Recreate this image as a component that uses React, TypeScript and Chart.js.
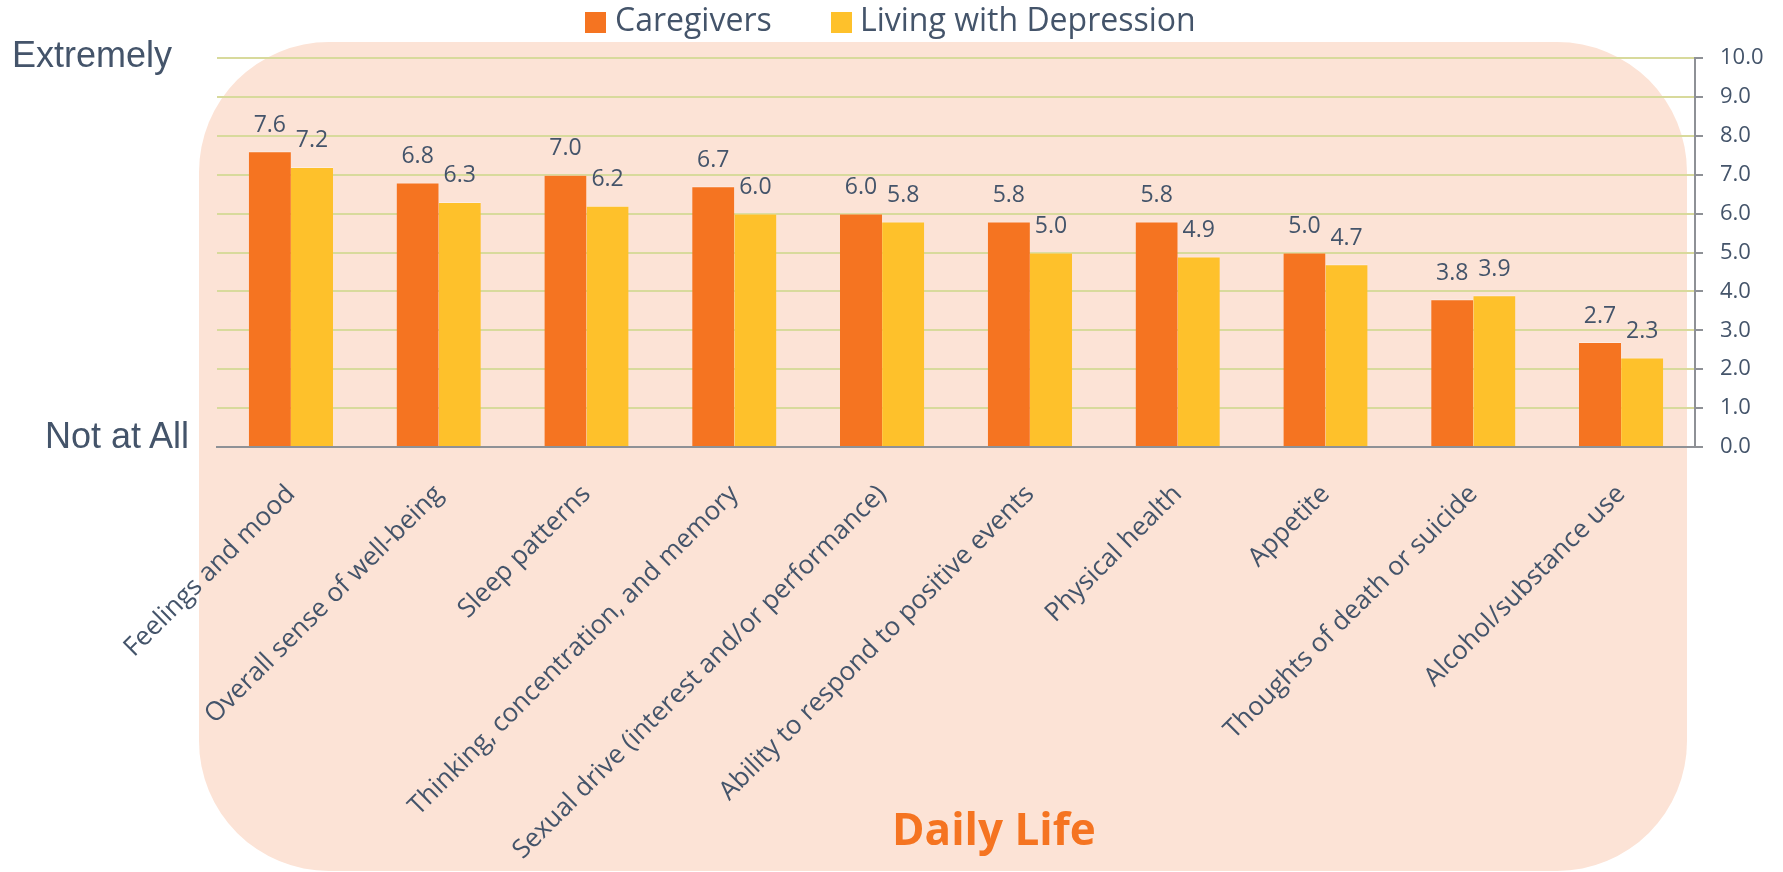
import React, { useEffect, useRef } from "react";
import { Chart, registerables } from "chart.js";

Chart.register(...registerables);

const categories = [
  "Feelings and mood",
  "Overall sense of well-being",
  "Sleep patterns",
  "Thinking, concentration, and memory",
  "Sexual drive (interest and/or performance)",
  "Ability to respond to positive events",
  "Physical health",
  "Appetite",
  "Thoughts of death or suicide",
  "Alcohol/substance use",
];
const caregivers = [7.6, 6.8, 7.0, 6.7, 6.0, 5.8, 5.8, 5.0, 3.8, 2.7];
const livingWithDepression = [7.2, 6.3, 6.2, 6.0, 5.8, 5.0, 4.9, 4.7, 3.9, 2.3];
const seriesNames = ["Caregivers", "Living with Depression"];
const yMin = 0;
const yMax = 10;
const yStep = 1;
const topLabel = "Extremely";
const bottomLabel = "Not at All";
const sectionTitle = "Daily Life";

const W = 1783;
const H = 872;
const ORANGE = "#F57421";
const YELLOW = "#FEC12B";
const PEACH = "#FCE3D6";
const TEXT = "#44546A";
const GRID = "#D8DA9C";
const AXIS = "#8E9196";

const bgPlugin = {
  id: "peachBg",
  beforeDraw(chart: any) {
    const { ctx, chartArea } = chart;
    const x = chartArea.left - 18;
    const right = chartArea.right - 8;
    const y = 42;
    const bottom = 871;
    ctx.save();
    ctx.fillStyle = PEACH;
    ctx.beginPath();
    ctx.roundRect(x, y, right - x, bottom - y, 130);
    ctx.fill();
    ctx.restore();
  },
};

const valueLabelPlugin = {
  id: "valueLabels",
  afterDatasetsDraw(chart: any) {
    const { ctx } = chart;
    ctx.save();
    ctx.font = '23px "Open Sans"';
    ctx.fillStyle = TEXT;
    ctx.textAlign = "center";
    ctx.textBaseline = "middle";
    chart.data.datasets.forEach((ds: any, di: number) => {
      const meta = chart.getDatasetMeta(di);
      meta.data.forEach((el: any, i: number) => {
        const v = ds.data[i] as number;
        ctx.fillText(v.toFixed(1), el.x, el.y - 26);
      });
    });
    ctx.restore();
  },
};

export default function App() {
  const canvasRef = useRef<HTMLCanvasElement | null>(null);

  useEffect(() => {
    document.body.style.margin = "0";
    document.body.style.overflow = "hidden";
    const canvas = canvasRef.current;
    if (!canvas) return;
    const chart = new Chart(canvas, {
      type: "bar",
      data: {
        labels: categories,
        datasets: [
          {
            label: seriesNames[0],
            data: caregivers,
            backgroundColor: ORANGE,
            borderColor: "rgba(255,255,255,0.35)",
            borderWidth: { top: 1, left: 0, right: 0, bottom: 0 },
            categoryPercentage: 0.57,
            barPercentage: 1.0,
          },
          {
            label: seriesNames[1],
            data: livingWithDepression,
            backgroundColor: YELLOW,
            borderColor: "rgba(255,255,255,0.35)",
            borderWidth: { top: 1, left: 0, right: 0, bottom: 0 },
            categoryPercentage: 0.57,
            barPercentage: 1.0,
          },
        ],
      },
      options: {
        responsive: false,
        animation: false,
        layout: { padding: { left: 217, top: 58, right: 0, bottom: 0 } },
        plugins: {
          legend: { display: false },
          tooltip: { enabled: false },
          title: { display: false },
        },
        scales: {
          x: {
            grid: { display: false, drawTicks: false },
            border: { display: true, color: AXIS, width: 2 },
            ticks: {
              autoSkip: false,
              minRotation: 45,
              maxRotation: 45,
              padding: 32,
              labelOffset: 0,
              color: TEXT,
              font: { family: "Open Sans", size: 26 },
            },
            afterFit: (scale: any) => {
              scale.height = H - 447;
            },
          },
          y: {
            position: "right",
            min: yMin,
            max: yMax,
            grid: {
              color: GRID,
              lineWidth: 2,
              tickColor: AXIS,
              tickLength: 8,
            },
            border: { display: true, color: AXIS, width: 2 },
            ticks: {
              stepSize: yStep,
              padding: 17,
              color: TEXT,
              font: { family: "Open Sans", size: 22 },
              callback: (v: any) => Number(v).toFixed(1),
            },
            afterFit: (scale: any) => {
              scale.width = W - 1695;
            },
          },
        },
      },
      plugins: [bgPlugin, valueLabelPlugin],
    });
    return () => chart.destroy();
  }, []);

  const textStyle: React.CSSProperties = {
    position: "absolute",
    whiteSpace: "nowrap",
    color: TEXT,
  };

  return (
    <div style={{ position: "absolute", left: 0, top: 0, width: W, height: H, background: "#fff", overflow: "hidden" }}>
      <canvas ref={canvasRef} width={W} height={H} style={{ position: "absolute", left: 0, top: 0, width: W, height: H }} />
      <div style={{ position: "absolute", left: 585, top: 12, width: 21, height: 21, background: ORANGE }} />
      <div style={{ ...textStyle, left: 615, top: 3, fontFamily: '"Open Sans"', fontSize: 32, lineHeight: "32px" }}>{seriesNames[0]}</div>
      <div style={{ position: "absolute", left: 831, top: 12, width: 21, height: 21, background: YELLOW }} />
      <div style={{ ...textStyle, left: 860, top: 3, fontFamily: '"Open Sans"', fontSize: 32, lineHeight: "32px" }}>{seriesNames[1]}</div>
      <div style={{ ...textStyle, left: 12, top: 37, fontFamily: '"Liberation Sans", Arial', fontSize: 36, lineHeight: "36px" }}>{topLabel}</div>
      <div style={{ ...textStyle, left: 45, top: 418, fontFamily: '"Liberation Sans", Arial', fontSize: 36, lineHeight: "36px" }}>{bottomLabel}</div>
      <div style={{ ...textStyle, left: 892, top: 806, fontFamily: '"Open Sans"', fontWeight: 700, fontSize: 44, lineHeight: "44px", color: ORANGE }}>{sectionTitle}</div>
    </div>
  );
}
